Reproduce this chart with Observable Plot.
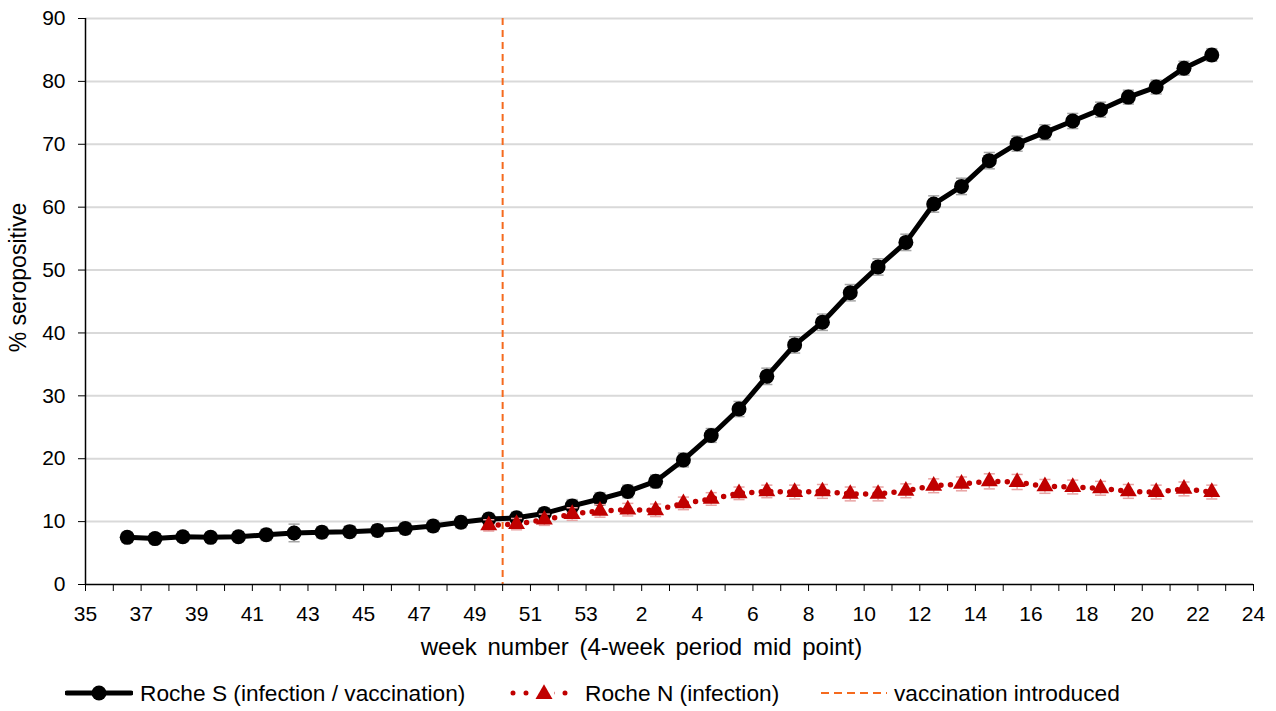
<!DOCTYPE html>
<html><head><meta charset="utf-8">
<script src="https://cdn.jsdelivr.net/npm/d3@7"></script>
<script src="https://cdn.jsdelivr.net/npm/@observablehq/plot@0.6"></script>
<style>
body{margin:0;background:#fff;font-family:"Liberation Sans",Arial,sans-serif;}
#chart svg{display:block;}
#legend{position:relative;height:46px;}
.item{position:absolute;top:8px;height:40px;display:flex;align-items:center;font-size:22.7px;color:#000;white-space:nowrap;}
.item svg{margin-right:7px;}
</style></head><body>
<div id="chart"></div>
<div id="legend"></div>
<script>
// ---- data ----
const weekTicks = [35,36,37,38,39,40,41,42,43,44,45,46,47,48,49,50,51,52,53,1,2,3,4,5,6,7,8,9,10,11,12,13,14,15,16,17,18,19,20,21,22,23,24];
const yTicks = [0,10,20,30,40,50,60,70,80,90];

const sWeeks = [36.5,37.5,38.5,39.5,40.5,41.5,42.5,43.5,44.5,45.5,46.5,47.5,48.5,49.5,50.5,51.5,52.5,53.5,
                1.5,2.5,3.5,4.5,5.5,6.5,7.5,8.5,9.5,10.5,11.5,12.5,13.5,14.5,15.5,16.5,17.5,18.5,19.5,20.5,21.5,22.5];
const sValues = [7.5,7.3,7.6,7.5,7.6,7.9,8.2,8.3,8.4,8.6,8.9,9.3,9.9,10.4,10.6,11.3,12.5,13.6,
                 14.8,16.4,19.8,23.7,27.9,33.1,38.1,41.7,46.4,50.5,54.4,60.5,63.3,67.4,70.1,71.9,73.7,75.5,77.5,79.1,82.1,84.2];
const sErr = [0.8,0.8,0.8,0.8,0.8,0.9,1.4,0.9,0.9,0.9,0.9,0.9,0.9,0.9,0.9,0.9,1.0,1.0,
              1.0,1.0,1.1,1.1,1.2,1.3,1.3,1.3,1.3,1.3,1.3,1.3,1.3,1.3,1.2,1.2,1.2,1.2,1.1,1.1,1.1,1.0];

const nWeeks = [49.5,50.5,51.5,52.5,53.5,1.5,2.5,3.5,4.5,5.5,6.5,7.5,8.5,9.5,10.5,11.5,12.5,13.5,14.5,15.5,16.5,17.5,18.5,19.5,20.5,21.5,22.5];
const nValues = [9.4,9.6,10.3,11.2,11.7,11.9,11.8,12.9,13.6,14.5,14.8,14.7,14.8,14.4,14.4,14.9,15.7,16.0,16.4,16.3,15.6,15.5,15.3,14.8,14.7,15.2,14.7];
const nErr = [0.9,0.9,0.9,1.0,1.0,1.0,1.0,1.0,1.0,1.0,1.0,1.1,1.1,1.1,1.1,1.1,1.1,1.1,1.2,1.2,1.1,1.1,1.1,1.1,1.1,1.1,1.1];

const vaccinationWeek = 50;
const xTitle = "week number (4-week period mid point)";
const yTitle = "% seropositive";
const legendLabels = ["Roche S (infection / vaccination)", "Roche N (infection)", "vaccination introduced"];

// ---- helpers ----
const toIdx = w => (w >= 35 ? w - 35 : w + 18);
const sData = sWeeks.map((w, i) => ({x: toIdx(w), y: sValues[i], e: sErr[i]}));
const nData = nWeeks.map((w, i) => ({x: toIdx(w), y: nValues[i], e: nErr[i]}));
const tickIdx = weekTicks.map((w, i) => i);

const BLACK = "#000000", RED = "#c00000", ORANGE = "#f56a1e";
const TRI_R = 6.3;

const chart = Plot.plot({
  width: 1276, height: 665,
  marginLeft: 85, marginRight: 23, marginTop: 18, marginBottom: 81,
  x: {domain: [0, 42]},
  y: {domain: [0, 90]},
  style: {fontFamily: '"Liberation Sans", Arial, sans-serif', fontSize: "21px", color: "#000", background: "#fff"},
  marks: [
    Plot.ruleY(yTicks.filter(v => v > 0), {stroke: "#d9d9d9", strokeWidth: 2}),
    Plot.ruleX([vaccinationWeek], {x: toIdx, stroke: ORANGE, strokeWidth: 2, strokeDasharray: "7 5"}),
    Plot.ruleY([0], {stroke: BLACK, strokeWidth: 1.5}),
    Plot.ruleX([0], {stroke: BLACK, strokeWidth: 1.5}),
    Plot.axisX({ticks: tickIdx, tickSize: 7, tickPadding: 15, fontSize: 21, label: null,
      tickFormat: i => (i % 2 === 0 ? String(weekTicks[i]) : "")}),
    Plot.axisY({ticks: yTicks, tickSize: 7, tickPadding: 13, fontSize: 21, label: null}),
    // error bars
    Plot.ruleX(sData, {x: "x", y1: d => d.y - d.e, y2: d => d.y + d.e, stroke: "#a6a6a6", strokeWidth: 1.5}),
    Plot.link(sData, {x1: d => d.x - 0.2, x2: d => d.x + 0.2, y1: d => d.y - d.e, y2: d => d.y - d.e, stroke: "#a6a6a6", strokeWidth: 1.5}),
    Plot.link(sData, {x1: d => d.x - 0.2, x2: d => d.x + 0.2, y1: d => d.y + d.e, y2: d => d.y + d.e, stroke: "#a6a6a6", strokeWidth: 1.5}),
    // Roche S
    Plot.line(sData, {x: "x", y: "y", stroke: BLACK, strokeWidth: 5}),
    Plot.dot(sData, {x: "x", y: "y", r: 7.5, fill: BLACK, stroke: "none"}),
    // Roche N error bars
    Plot.ruleX(nData, {x: "x", y1: d => d.y - d.e, y2: d => d.y + d.e, stroke: "#e8a3a3", strokeWidth: 1.5}),
    Plot.link(nData, {x1: d => d.x - 0.2, x2: d => d.x + 0.2, y1: d => d.y - d.e, y2: d => d.y - d.e, stroke: "#e8a3a3", strokeWidth: 1.5}),
    Plot.link(nData, {x1: d => d.x - 0.2, x2: d => d.x + 0.2, y1: d => d.y + d.e, y2: d => d.y + d.e, stroke: "#e8a3a3", strokeWidth: 1.5}),
    // Roche N
    Plot.line(nData, {x: "x", y: "y", stroke: RED, strokeWidth: 5.5, strokeDasharray: "0 9.5", strokeLinecap: "round"}),
    Plot.dot(nData, {x: "x", y: "y", r: TRI_R, symbol: "triangle", fill: RED, stroke: "none"}),
    // axis titles
    Plot.text([xTitle], {text: d => d, frameAnchor: "bottom", lineAnchor: "middle", textAnchor: "middle", dy: 63, dx: -28, fontSize: 24}),
    Plot.text([yTitle], {text: d => d, frameAnchor: "left", lineAnchor: "middle", textAnchor: "middle", rotate: -90, dx: -67, dy: -24, fontSize: 23})
  ]
});
d3.select(chart).selectAll("text").filter(function() { return this.textContent === xTitle; }).attr("word-spacing", "4px");
document.getElementById("chart").appendChild(chart);

// ---- legend ----
const legend = document.getElementById("legend");
const swatches = [
  `<svg width="68" height="20"><line x1="2" y1="10" x2="66" y2="10" stroke="${BLACK}" stroke-width="5" stroke-linecap="round"/><circle cx="34" cy="10" r="7.5" fill="${BLACK}"/></svg>`,
  `<svg width="68" height="20"><line x1="3" y1="10" x2="66" y2="10" stroke="${RED}" stroke-width="5" stroke-dasharray="0 13" stroke-linecap="round"/><rect x="24" y="1" width="20" height="18" fill="#fff"/><path d="${d3.symbol(d3.symbolTriangle, TRI_R*TRI_R*Math.PI)()}" transform="translate(34,11)" fill="${RED}"/></svg>`,
  `<svg width="66" height="20"><line x1="0" y1="10" x2="66" y2="10" stroke="${ORANGE}" stroke-width="2" stroke-dasharray="8 5"/></svg>`
];
const lefts = [65, 510, 821];
legendLabels.forEach((lab, i) => {
  const div = document.createElement("div");
  div.className = "item";
  div.style.left = lefts[i] + "px";
  div.innerHTML = swatches[i] + `<span>${lab}</span>`;
  legend.appendChild(div);
});
</script></body></html>
